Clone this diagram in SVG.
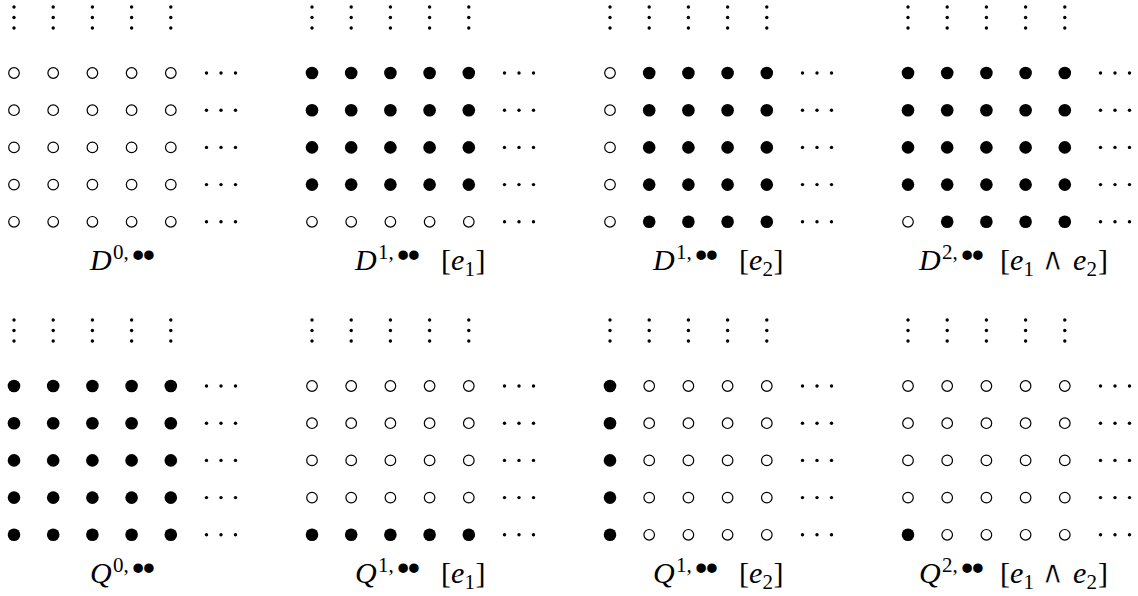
<svg xmlns="http://www.w3.org/2000/svg" width="1138" height="596" viewBox="0 0 1138 596">
<style>
.o{fill:#fff;stroke:#000;stroke-width:1.2}
.f{fill:#000}
.d{fill:#000}
text{font-family:"Liberation Serif","DejaVu Serif",serif;fill:#000}
.it{font-style:italic;font-size:30px}
.rm{font-size:30px}
.sp{font-size:21px}
.b{font-family:"Liberation Sans","DejaVu Sans",sans-serif;font-size:35px;letter-spacing:-1.5px}
.w{font-family:"DejaVu Sans",sans-serif;font-weight:200;font-size:32px;stroke:#fff;stroke-width:0.8px}
</style>
<defs>
<g id="vd">
<circle class="d" cx="14" cy="7" r="1.7"/><circle class="d" cx="14" cy="17.5" r="1.7"/><circle class="d" cx="14" cy="28" r="1.7"/>
<circle class="d" cx="53.2" cy="7" r="1.7"/><circle class="d" cx="53.2" cy="17.5" r="1.7"/><circle class="d" cx="53.2" cy="28" r="1.7"/>
<circle class="d" cx="92.4" cy="7" r="1.7"/><circle class="d" cx="92.4" cy="17.5" r="1.7"/><circle class="d" cx="92.4" cy="28" r="1.7"/>
<circle class="d" cx="131.6" cy="7" r="1.7"/><circle class="d" cx="131.6" cy="17.5" r="1.7"/><circle class="d" cx="131.6" cy="28" r="1.7"/>
<circle class="d" cx="170.8" cy="7" r="1.7"/><circle class="d" cx="170.8" cy="17.5" r="1.7"/><circle class="d" cx="170.8" cy="28" r="1.7"/>
</g>
<g id="hd"><circle class="d" cx="206.5" cy="0" r="1.7"/><circle class="d" cx="221" cy="0" r="1.7"/><circle class="d" cx="235.5" cy="0" r="1.7"/></g>
<g id="rO"><circle class="o" cx="14" cy="0" r="5.3"/><circle class="o" cx="53.2" cy="0" r="5.3"/><circle class="o" cx="92.4" cy="0" r="5.3"/><circle class="o" cx="131.6" cy="0" r="5.3"/><circle class="o" cx="170.8" cy="0" r="5.3"/><use href="#hd"/></g>
<g id="rF"><circle class="f" cx="14" cy="0" r="6.3"/><circle class="f" cx="53.2" cy="0" r="6.3"/><circle class="f" cx="92.4" cy="0" r="6.3"/><circle class="f" cx="131.6" cy="0" r="6.3"/><circle class="f" cx="170.8" cy="0" r="6.3"/><use href="#hd"/></g>
<g id="rOF"><circle class="o" cx="14" cy="0" r="5.3"/><circle class="f" cx="53.2" cy="0" r="6.3"/><circle class="f" cx="92.4" cy="0" r="6.3"/><circle class="f" cx="131.6" cy="0" r="6.3"/><circle class="f" cx="170.8" cy="0" r="6.3"/><use href="#hd"/></g>
<g id="rFO"><circle class="f" cx="14" cy="0" r="6.3"/><circle class="o" cx="53.2" cy="0" r="5.3"/><circle class="o" cx="92.4" cy="0" r="5.3"/><circle class="o" cx="131.6" cy="0" r="5.3"/><circle class="o" cx="170.8" cy="0" r="5.3"/><use href="#hd"/></g>
</defs>
<rect width="1138" height="596" fill="#fff"/>

<g id="D0">
<use href="#vd"/>
<use href="#rO" y="73"/><use href="#rO" y="110.2"/><use href="#rO" y="147.4"/><use href="#rO" y="184.6"/><use href="#rO" y="221.8"/>
<text><tspan class="it" x="90" y="270">D</tspan><tspan class="sp" x="113" y="259">0,</tspan><tspan class="b" x="132" y="267">••</tspan></text>
</g>

<g id="D1e1">
<g transform="translate(298,0)">
<use href="#vd"/>
<use href="#rF" y="73"/><use href="#rF" y="110.2"/><use href="#rF" y="147.4"/><use href="#rF" y="184.6"/><use href="#rO" y="221.8"/>
</g>
<text><tspan class="it" x="355" y="270">D</tspan><tspan class="sp" x="378" y="259">1,</tspan><tspan class="b" x="397" y="267">••</tspan><tspan class="rm" x="441" y="270">[</tspan><tspan class="it" x="451" y="270">e</tspan><tspan class="sp" x="464.5" y="276">1</tspan><tspan class="rm" x="475.5" y="270">]</tspan></text>
</g>

<g id="D1e2">
<g transform="translate(596,0)">
<use href="#vd"/>
<use href="#rOF" y="73"/><use href="#rOF" y="110.2"/><use href="#rOF" y="147.4"/><use href="#rOF" y="184.6"/><use href="#rOF" y="221.8"/>
</g>
<text><tspan class="it" x="653" y="270">D</tspan><tspan class="sp" x="676" y="259">1,</tspan><tspan class="b" x="695" y="267">••</tspan><tspan class="rm" x="739" y="270">[</tspan><tspan class="it" x="749" y="270">e</tspan><tspan class="sp" x="762.5" y="276">2</tspan><tspan class="rm" x="773.5" y="270">]</tspan></text>
</g>

<g id="D2">
<g transform="translate(894,0)">
<use href="#vd"/>
<use href="#rF" y="73"/><use href="#rF" y="110.2"/><use href="#rF" y="147.4"/><use href="#rF" y="184.6"/><use href="#rOF" y="221.8"/>
</g>
<text><tspan class="it" x="919" y="270">D</tspan><tspan class="sp" x="942" y="259">2,</tspan><tspan class="b" x="961" y="267">••</tspan><tspan class="rm" x="1000" y="270">[</tspan><tspan class="it" x="1010" y="270">e</tspan><tspan class="sp" x="1023.5" y="276">1</tspan><tspan class="w" x="1041" y="270">∧</tspan><tspan class="it" x="1073" y="270">e</tspan><tspan class="sp" x="1086.5" y="276">2</tspan><tspan class="rm" x="1098" y="270">]</tspan></text>
</g>

<g id="Q0">
<g transform="translate(0,313)">
<use href="#vd"/>
<use href="#rF" y="73"/><use href="#rF" y="110.2"/><use href="#rF" y="147.4"/><use href="#rF" y="184.6"/><use href="#rF" y="221.8"/>
</g>
<text><tspan class="it" x="90" y="583">Q</tspan><tspan class="sp" x="113" y="572">0,</tspan><tspan class="b" x="132" y="580">••</tspan></text>
</g>

<g id="Q1e1">
<g transform="translate(298,313)">
<use href="#vd"/>
<use href="#rO" y="73"/><use href="#rO" y="110.2"/><use href="#rO" y="147.4"/><use href="#rO" y="184.6"/><use href="#rF" y="221.8"/>
</g>
<text><tspan class="it" x="355" y="583">Q</tspan><tspan class="sp" x="378" y="572">1,</tspan><tspan class="b" x="397" y="580">••</tspan><tspan class="rm" x="441" y="583">[</tspan><tspan class="it" x="451" y="583">e</tspan><tspan class="sp" x="464.5" y="589">1</tspan><tspan class="rm" x="475.5" y="583">]</tspan></text>
</g>

<g id="Q1e2">
<g transform="translate(596,313)">
<use href="#vd"/>
<use href="#rFO" y="73"/><use href="#rFO" y="110.2"/><use href="#rFO" y="147.4"/><use href="#rFO" y="184.6"/><use href="#rFO" y="221.8"/>
</g>
<text><tspan class="it" x="653" y="583">Q</tspan><tspan class="sp" x="676" y="572">1,</tspan><tspan class="b" x="695" y="580">••</tspan><tspan class="rm" x="739" y="583">[</tspan><tspan class="it" x="749" y="583">e</tspan><tspan class="sp" x="762.5" y="589">2</tspan><tspan class="rm" x="773.5" y="583">]</tspan></text>
</g>

<g id="Q2">
<g transform="translate(894,313)">
<use href="#vd"/>
<use href="#rO" y="73"/><use href="#rO" y="110.2"/><use href="#rO" y="147.4"/><use href="#rO" y="184.6"/><use href="#rFO" y="221.8"/>
</g>
<text><tspan class="it" x="919" y="583">Q</tspan><tspan class="sp" x="942" y="572">2,</tspan><tspan class="b" x="961" y="580">••</tspan><tspan class="rm" x="1000" y="583">[</tspan><tspan class="it" x="1010" y="583">e</tspan><tspan class="sp" x="1023.5" y="589">1</tspan><tspan class="w" x="1041" y="583">∧</tspan><tspan class="it" x="1073" y="583">e</tspan><tspan class="sp" x="1086.5" y="589">2</tspan><tspan class="rm" x="1098" y="583">]</tspan></text>
</g>

<g id="connectors"></g>
</svg>
